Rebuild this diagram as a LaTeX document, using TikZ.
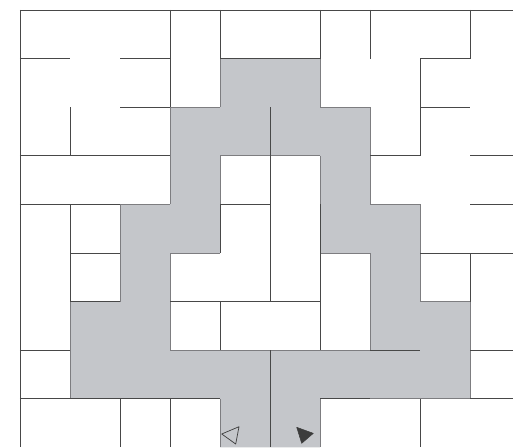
\documentclass[tikz,border=0pt]{standalone}
\definecolor{fillgray}{RGB}{196,198,202}
\definecolor{wallc}{RGB}{72,72,72}
\definecolor{edgec}{RGB}{125,125,128}
\definecolor{markc}{RGB}{60,60,60}
\begin{document}
\begin{tikzpicture}[x=50pt,y=-48.6pt,
  wall/.style={wallc,line width=0.9pt},
  edgeline/.style={edgec,line width=0.7pt},
  cellfill/.style={fill=fillgray,even odd rule},
  openmark/.style={draw=markc,line width=0.7pt,line join=round},
  fullmark/.style={fill=markc,draw=markc,line width=0.5pt,line join=round}]
\useasboundingbox (-0.4,-0.20576) rectangle (9.86,8.99177);
\clip (-0.4,-0.20576) rectangle (9.86,8.99177);
\fill[white] (-0.4,-0.20576) rectangle (9.86,8.99177);
% gray path region
\path[cellfill] (4,1) -- (6,1) -- (6,2) -- (7,2) -- (7,4) -- (8,4) -- (8,6) -- (9,6) -- (9,8) -- (6,8) -- (6,9) -- (4,9) -- (4,8) -- (1,8) -- (1,6) -- (2,6) -- (2,4) -- (3,4) -- (3,2) -- (4,2) -- cycle
  (4,3) -- (6,3) -- (6,5) -- (7,5) -- (7,7) -- (3,7) -- (3,5) -- (4,5) -- cycle;
% boundaries of the gray region
\foreach \xa/\ya/\xb/\yb in {3/2/4/2, 6/2/7/2, 4/3/6/3, 2/4/3/4, 7/4/8/4, 3/5/4/5, 6/5/7/5, 8/6/9/6, 3/7/7/7, 7/8/9/8,
  1/6/1/8, 2/4/2/6, 3/2/3/4, 3/5/3/7, 4/1/4/2, 4/3/4/4, 4/8/4/9, 6/1/6/2, 6/3/6/4, 6/8/6/9, 7/2/7/4, 7/5/7/7, 8/4/8/6, 9/6/9/8}
  {\draw[edgeline] (\xa,\ya) -- (\xb,\yb);}
% walls, horizontal
\foreach \xa/\ya/\xb/\yb in {0/0/10/0,
  0/1/1/1, 2/1/3/1, 4/1/6/1, 8/1/9/1,
  2/2/3/2, 8/2/9/2,
  0/3/3/3, 7/3/8/3, 9/3/10/3,
  0/4/2/4, 4/4/5/4, 9/4/10/4,
  1/5/2/5, 8/5/10/5,
  1/6/2/6, 3/6/6/6,
  0/7/1/7, 7/7/8/7, 9/7/10/7,
  0/8/4/8, 6/8/7/8, 9/8/10/8}
  {\draw[wall] (\xa,\ya) -- (\xb,\yb);}
% walls, vertical
\foreach \xa/\ya/\xb/\yb in {0/0/0/9,
  1/2/1/3, 1/4/1/6,
  2/8/2/9,
  3/0/3/2, 3/8/3/9,
  4/0/4/1, 4/4/4/5, 4/6/4/7,
  5/2/5/6, 5/7/5/9,
  6/0/6/1, 6/4/6/7,
  7/0/7/1,
  8/1/8/3, 8/8/8/9,
  9/0/9/1, 9/5/9/6}
  {\draw[wall] (\xa,\ya) -- (\xb,\yb);}
% the two marks at the bottom
\draw[openmark] (4.034,8.724) -- (4.38,8.574) -- (4.314,8.930) -- cycle;
\filldraw[fullmark] (5.534,8.586) -- (5.866,8.710) -- (5.634,8.916) -- cycle;
\end{tikzpicture}
\end{document}
